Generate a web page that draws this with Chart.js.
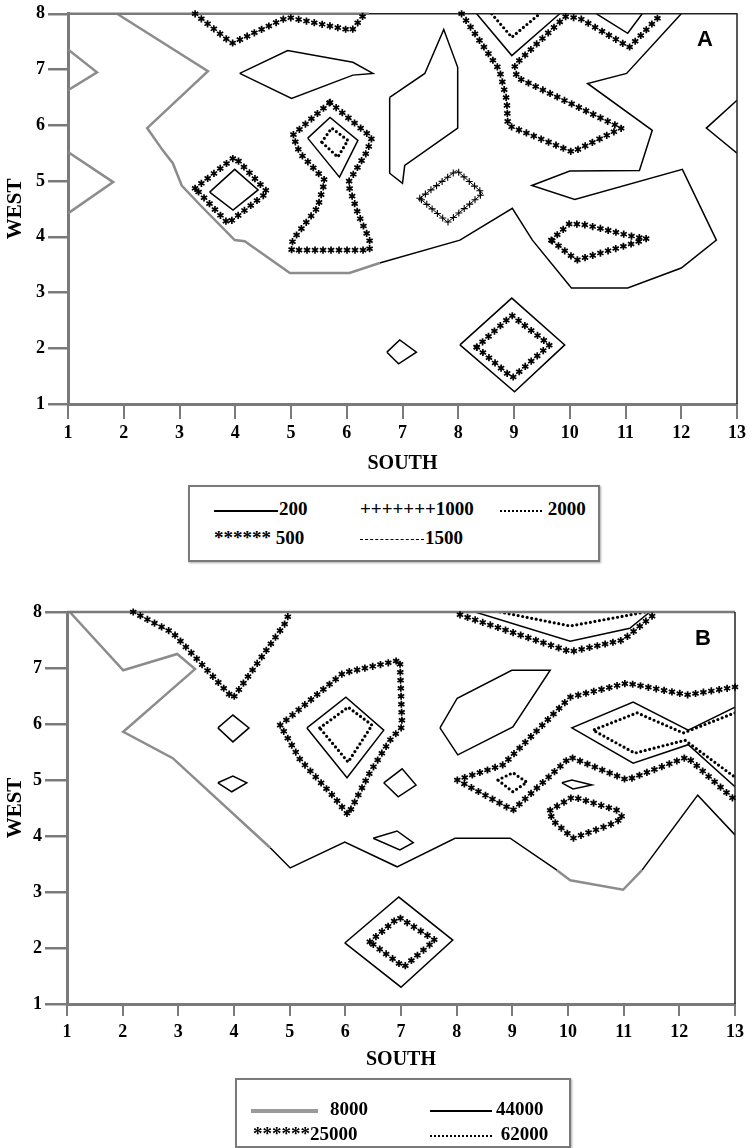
<!DOCTYPE html>
<html>
<head>
<meta charset="utf-8">
<script src="https://cdn.jsdelivr.net/npm/chart.js@4.4.0/dist/chart.umd.min.js"></script>
<style>
body { margin: 0; background: #fff; width: 753px; height: 1148px; position: relative; overflow: hidden; font-family: 'Liberation Serif', 'Times New Roman', serif; }
canvas { position: absolute; left: 0; }
.legend { position: absolute; border: 2px solid #7a7a7a; box-shadow: 1px 1px 2px #aaa; background: #fff; font-weight: bold; font-size: 19px; }
.item { position: absolute; white-space: nowrap; line-height: 20px; }
.sample { display: inline-block; vertical-align: middle; margin-right: 1px; }
.tag { position: absolute; font-family: 'Liberation Sans', Arial, sans-serif; font-weight: bold; font-size: 22px; }
</style>
</head>
<body>
<canvas id="chartA" width="753" height="480" style="top:0"></canvas>
<canvas id="chartB" width="753" height="480" style="top:598px"></canvas>
<div class="tag" style="left:697px;top:26px">A</div>
<div class="tag" style="left:695px;top:625px">B</div>

<div class="legend" style="left:188px;top:485px;width:408px;height:73px">
  <div class="item" style="left:24px;top:12px"><span class="sample" style="width:64px;border-top:2px solid #000"></span>200</div>
  <div class="item" style="left:170px;top:12px">+++++++1000</div>
  <div class="item" style="left:310px;top:12px"><span class="sample" style="width:42px;border-top:2px dotted #000"></span> 2000</div>
  <div class="item" style="left:24px;top:41px">****** 500</div>
  <div class="item" style="left:170px;top:41px"><span class="sample" style="width:64px;border-top:1px dashed #000"></span>1500</div>
</div>

<div class="legend" style="left:235px;top:1078px;width:332px;height:66px">
  <div class="item" style="left:14px;top:19px"><span class="sample" style="width:67px;border-top:4px solid #9a9a9a;margin-right:12px"></span>8000</div>
  <div class="item" style="left:193px;top:19px"><span class="sample" style="width:62px;border-top:2px solid #000;margin-right:4px"></span>44000</div>
  <div class="item" style="left:16px;top:44px">******25000</div>
  <div class="item" style="left:193px;top:44px"><span class="sample" style="width:62px;border-top:2px dotted #000;margin-right:4px"></span> 62000</div>
</div>

<script>
// ---- chart A contours (SOUTH, WEST) ----
const aGrayTop = [[1, 7.36], [1.52, 6.95], [1, 6.63]];
const aGrayMid = [[1, 5.52], [1.81, 4.98], [1, 4.42]];
const aGrayMain = [[1.88, 8], [3.51, 6.97], [2.42, 5.95], [2.70, 5.55], [2.88, 5.32], [3.04, 4.92], [3.37, 4.57], [3.99, 3.94], [4.17, 3.92], [4.98, 3.35], [6.05, 3.35], [6.59, 3.53]];
const aSolidMain = [[6.59, 3.53], [8.03, 3.94], [8.97, 4.51], [9.33, 3.94], [10.03, 3.08], [11.04, 3.08], [12.0, 3.44], [12.63, 3.94], [12.02, 5.21], [10.09, 4.67], [9.32, 4.92], [10.0, 5.18], [11.25, 5.19], [11.48, 5.91], [10.32, 6.75], [11.02, 6.93], [12.0, 8]];
const aSolidLens = [[4.08, 6.93], [4.94, 7.34], [6.11, 7.13], [6.47, 6.93], [6.11, 6.90], [5.01, 6.48], [4.08, 6.93]];
const aSolidDiamond = [[3.54, 4.80], [3.99, 5.21], [4.41, 4.84], [3.96, 4.48], [3.54, 4.80]];
const aSolidKite = [[5.30, 5.77], [5.70, 6.14], [6.20, 5.73], [5.87, 5.07], [5.30, 5.77]];
const aSolidTall = [[6.77, 6.50], [7.40, 6.93], [7.74, 7.72], [7.99, 7.04], [7.99, 5.95], [7.04, 5.28], [7.00, 4.96], [6.77, 5.14], [6.77, 6.50]];
const aSolidV1 = [[8.33, 8], [8.96, 7.25], [9.82, 8]];
const aSolidV2 = [[10.48, 8], [11.04, 7.65], [11.30, 8]];
const aSolidEdge = [[13, 6.45], [12.45, 5.95], [13, 5.50]];
const aSolidLow = [[8.03, 2.06], [8.96, 2.90], [9.91, 2.06], [9.01, 1.22], [8.03, 2.06]];
const aSolidSmall = [[6.72, 1.93], [6.95, 2.15], [7.25, 1.93], [6.93, 1.72], [6.72, 1.93]];
const aStarTop = [[3.28, 8], [3.94, 7.47], [4.94, 7.94], [6.09, 7.70], [6.32, 8]];
const aStarDiamond = [[3.28, 4.87], [3.99, 5.43], [4.58, 4.80], [3.87, 4.24], [3.28, 4.87]];
const aStarHourglass = [[5.70, 6.41], [6.45, 5.78], [6.36, 5.52], [6.02, 4.96], [6.20, 4.42], [6.41, 3.94], [6.41, 3.76], [5.01, 3.76], [5.03, 3.94], [5.48, 4.53], [5.61, 5.01], [5.16, 5.50], [5.03, 5.82], [5.70, 6.41]];
const aStarBranch = [[8.06, 8], [8.74, 6.99], [8.87, 6.45], [8.89, 6.0], [10.05, 5.52], [10.93, 5.95], [9.05, 6.86], [9.01, 7.08], [9.92, 7.95], [10.18, 7.92], [11.07, 7.40], [11.65, 8]];
const aStarDrop = [[9.67, 3.94], [10.0, 4.24], [10.30, 4.21], [11.20, 3.99], [11.38, 3.97], [11.20, 3.90], [10.12, 3.58], [9.67, 3.94]];
const aStarLow = [[8.33, 2.02], [8.96, 2.59], [9.64, 2.06], [8.97, 1.47], [8.33, 2.02]];
const aPlus = [[7.31, 4.69], [7.97, 5.19], [8.44, 4.78], [7.81, 4.26], [7.31, 4.69]];
const aDotKite = [[5.55, 5.70], [5.73, 5.95], [6.02, 5.73], [5.84, 5.43], [5.55, 5.70]];
const aDotV = [[8.60, 8], [8.96, 7.58], [9.46, 8]];

// ---- chart B contours ----
const bGrayMain = [[1.05, 8], [2.01, 6.96], [2.98, 7.25], [3.30, 6.98], [2.01, 5.86], [2.90, 5.39], [4.65, 3.79]];
const bSolidBottom = [[4.65, 3.79], [5.01, 3.43], [5.99, 3.89], [6.93, 3.45], [7.97, 3.96], [8.96, 3.96], [9.80, 3.39]];
const bGrayBottom = [[9.80, 3.39], [10.04, 3.21], [10.99, 3.04], [11.33, 3.39]];
const bSolidRight = [[11.33, 3.39], [12.33, 4.73], [13, 4.02]];
const bStarTopLeft = [[2.19, 8], [2.90, 7.63], [3.98, 6.46], [4.92, 7.80], [5.0, 8]];
const bSolidD1 = [[3.71, 5.93], [3.98, 6.16], [4.27, 5.93], [3.98, 5.68], [3.71, 5.93]];
const bSolidD2 = [[3.71, 4.95], [3.98, 5.07], [4.23, 4.95], [3.96, 4.79], [3.71, 4.95]];
const bStarKite = [[4.83, 5.98], [5.96, 6.91], [6.98, 7.14], [7.02, 5.95], [6.80, 5.71], [6.44, 5.13], [6.05, 4.38], [5.81, 4.68], [5.19, 5.36], [4.83, 5.98]];
const bSolidKite = [[5.31, 5.93], [6.01, 6.48], [6.69, 5.89], [6.03, 5.04], [5.31, 5.93]];
const bDotKite = [[5.54, 5.93], [6.05, 6.30], [6.48, 5.98], [6.05, 5.32], [5.54, 5.93]];
const bSolidD3 = [[6.69, 4.95], [7.02, 5.20], [7.27, 4.91], [6.95, 4.70], [6.69, 4.95]];
const bSolidD4 = [[6.50, 3.96], [6.93, 4.09], [7.22, 3.88], [6.98, 3.75], [6.50, 3.96]];
const bSolidPoly = [[7.70, 5.93], [8.01, 6.46], [8.99, 6.96], [9.68, 6.96], [9.01, 5.95], [8.02, 5.45], [7.70, 5.93]];
const bStarBand = [[13, 6.66], [12.14, 6.52], [11.06, 6.73], [10.04, 6.48], [8.83, 5.27], [8.01, 5.0], [9.01, 4.46], [10.04, 5.41], [11.06, 5.0], [12.14, 5.41], [13, 4.64]];
const bSolidX = [[13, 6.30], [12.16, 5.89], [11.17, 6.39], [10.07, 5.93], [11.17, 5.30], [12.16, 5.63], [13, 4.88]];
const bDotX = [[13, 6.20], [12.07, 5.84], [11.24, 6.20], [10.45, 5.89], [11.20, 5.48], [12.10, 5.71], [13, 5.05]];
const bDotSmall = [[8.74, 5.0], [9.01, 5.13], [9.26, 4.96], [9.01, 4.79], [8.74, 5.0]];
const bSolidLens = [[9.89, 4.95], [10.07, 5.0], [10.43, 4.91], [10.09, 4.84], [9.89, 4.95]];
const bStarDrop = [[9.68, 4.46], [10.09, 4.70], [10.88, 4.46], [10.99, 4.32], [10.75, 4.20], [10.09, 3.96], [9.71, 4.29], [9.68, 4.46]];
const bDotTop = [[8.78, 8], [10.04, 7.75], [11.02, 7.93], [11.38, 8]];
const bSolidTop = [[8.33, 8], [10.04, 7.48], [11.11, 7.71], [11.47, 8]];
const bStarTop = [[8.06, 7.95], [10.04, 7.29], [10.99, 7.50], [11.6, 8]];
const bSolidLow = [[5.99, 2.09], [6.96, 2.91], [7.93, 2.14], [7.0, 1.30], [5.99, 2.09]];
const bStarLow = [[6.44, 2.11], [6.96, 2.55], [7.61, 2.14], [7.05, 1.66], [6.44, 2.11]];

const xTicks = [1, 2, 3, 4, 5, 6, 7, 8, 9, 10, 11, 12, 13];
const yTicks = [1, 2, 3, 4, 5, 6, 7, 8];

const AXIS_GRAY = '#7a7a7a';
const serif = "'Liberation Serif', 'Times New Roman', serif";

function line(points, style) {
    const ds = {
        data: points.map(p => ({ x: p[0], y: p[1] })),
        showLine: true,
        pointRadius: 0,
        borderColor: '#000',
        borderWidth: 1.5,
        tension: 0,
        fill: false
    };
    if (style === 'gray') {
        ds.borderColor = '#8c8c8c';
        ds.borderWidth = 2.5;
    } else if (style === 'dot') {
        ds.borderWidth = 3.2;
        ds.borderDash = [0, 4.6];
        ds.borderCapStyle = 'round';
        ds.borderColor = '#000';
    } else if (style === 'star') {
        ds.borderWidth = 0;
        ds.borderColor = 'rgba(0,0,0,0)';
        ds.deco = 'star';
    } else if (style === 'plus') {
        ds.borderWidth = 1;
        ds.deco = 'plus';
    }
    return ds;
}

// draws asterisks / crosses along the rendered path of a dataset
const decoPlugin = {
    id: 'deco',
    afterDatasetsDraw(chart) {
        const ctx = chart.ctx;
        chart.data.datasets.forEach((ds, i) => {
            if (!ds.deco) return;
            const pts = chart.getDatasetMeta(i).data;
            const gap = ds.deco === 'star' ? 8 : 7;
            ctx.save();
            ctx.strokeStyle = '#000';
            ctx.lineWidth = ds.deco === 'star' ? 1.7 : 1.1;
            let carry = 0;
            for (let k = 1; k < pts.length; k++) {
                const x0 = pts[k - 1].x, y0 = pts[k - 1].y;
                const dx = pts[k].x - x0, dy = pts[k].y - y0;
                const len = Math.hypot(dx, dy);
                let t = carry;
                while (t <= len) {
                    const cx = x0 + dx * t / len, cy = y0 + dy * t / len;
                    ctx.beginPath();
                    if (ds.deco === 'star') {
                        const r = 3.6;
                        [Math.PI / 2, Math.PI / 6, -Math.PI / 6].forEach(a => {
                            ctx.moveTo(cx - r * Math.cos(a), cy - r * Math.sin(a));
                            ctx.lineTo(cx + r * Math.cos(a), cy + r * Math.sin(a));
                        });
                    } else {
                        const r = 3.5;
                        ctx.moveTo(cx - r, cy); ctx.lineTo(cx + r, cy);
                        ctx.moveTo(cx, cy - r); ctx.lineTo(cx, cy + r);
                    }
                    ctx.stroke();
                    t += gap;
                }
                carry = t - len;
            }
            ctx.restore();
        });
    }
};

// top and right edges of the frame
const framePlugin = {
    id: 'frame',
    afterDatasetsDraw(chart, args, opts) {
        const { left, right, top, bottom } = chart.chartArea;
        const ctx = chart.ctx;
        const mid = opts.split ? left + (right - left) * opts.split : right;
        ctx.save();
        ctx.lineWidth = 2.5;
        ctx.strokeStyle = AXIS_GRAY;
        ctx.beginPath();
        ctx.moveTo(left, top);
        ctx.lineTo(mid, top);
        ctx.stroke();
        ctx.lineWidth = 1.5;
        ctx.strokeStyle = '#222';
        ctx.beginPath();
        ctx.moveTo(mid, top);
        ctx.lineTo(right, top);
        ctx.lineTo(right, bottom);
        ctx.stroke();
        ctx.restore();
    }
};

function makeChart(id, datasets, cfg) {
    return new Chart(document.getElementById(id), {
        type: 'scatter',
        data: { datasets: datasets },
        options: {
            responsive: false,
            animation: false,
            layout: { padding: cfg.padding },
            plugins: {
                legend: { display: false },
                tooltip: { enabled: false },
                frame: { split: cfg.split }
            },
            scales: {
                x: {
                    type: 'linear', min: 1, max: 13,
                    afterBuildTicks: s => { s.ticks = xTicks.map(v => ({ value: v })); },
                    afterFit: s => { s.height = cfg.xHeight; },
                    ticks: { color: '#000', padding: cfg.xPad, maxRotation: 0, font: { family: serif, size: 18, weight: 'bold' } },
                    grid: { drawOnChartArea: false, drawTicks: true, tickLength: cfg.xTick, color: AXIS_GRAY, lineWidth: 2 },
                    border: { color: AXIS_GRAY, width: 3 },
                    title: { display: true, text: 'SOUTH', color: '#000', padding: { top: 0, bottom: cfg.titlePad }, font: { family: serif, size: 20, weight: 'bold' } }
                },
                y: {
                    type: 'linear', min: 1, max: 8,
                    afterBuildTicks: s => { s.ticks = yTicks.map(v => ({ value: v })); },
                    afterFit: s => { s.width = cfg.yWidth; },
                    ticks: { color: '#000', padding: 3, font: { family: serif, size: 18, weight: 'bold' } },
                    grid: { drawOnChartArea: false, drawTicks: true, tickLength: cfg.yTick, color: AXIS_GRAY, lineWidth: 2.5 },
                    border: { color: AXIS_GRAY, width: 3 },
                    title: { display: true, text: 'WEST', color: '#000', padding: 3, font: { family: serif, size: 21, weight: 'bold' } }
                }
            }
        },
        plugins: [framePlugin, decoPlugin]
    });
}

const setsA = [
    line(aGrayTop, 'gray'), line(aGrayMid, 'gray'), line(aGrayMain, 'gray'),
    line(aSolidMain), line(aSolidLens), line(aSolidDiamond), line(aSolidKite),
    line(aSolidTall), line(aSolidV1), line(aSolidV2), line(aSolidEdge),
    line(aSolidLow), line(aSolidSmall),
    line(aStarTop, 'star'), line(aStarDiamond, 'star'), line(aStarHourglass, 'star'),
    line(aStarBranch, 'star'), line(aStarDrop, 'star'), line(aStarLow, 'star'),
    line(aPlus, 'plus'),
    line(aDotKite, 'dot'), line(aDotV, 'dot')
];

const setsB = [
    line(bGrayMain, 'gray'), line(bSolidBottom), line(bGrayBottom, 'gray'), line(bSolidRight),
    line(bStarTopLeft, 'star'), line(bSolidD1), line(bSolidD2),
    line(bStarKite, 'star'), line(bSolidKite), line(bDotKite, 'dot'),
    line(bSolidD3), line(bSolidD4), line(bSolidPoly),
    line(bStarBand, 'star'), line(bSolidX), line(bDotX, 'dot'),
    line(bDotSmall, 'dot'), line(bSolidLens), line(bStarDrop, 'star'),
    line(bDotTop, 'dot'), line(bSolidTop), line(bStarTop, 'star'),
    line(bSolidLow), line(bStarLow, 'star')
];

makeChart('chartA', setsA, {
    padding: { top: 13, right: 16, left: 0, bottom: 0 },
    xHeight: 76, yWidth: 68, xTick: 15, yTick: 20, xPad: 4, titlePad: 4, split: 0.45
});

makeChart('chartB', setsB, {
    padding: { top: 14, right: 18, left: 0, bottom: 0 },
    xHeight: 74, yWidth: 67, xTick: 12, yTick: 22, xPad: 6, titlePad: 6, split: 0
});
</script>
</body>
</html>
